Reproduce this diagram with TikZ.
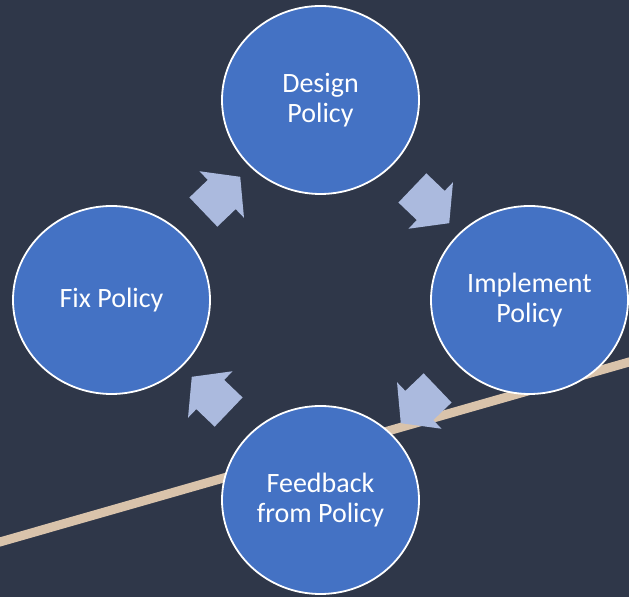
\documentclass[tikz,border=0pt]{standalone}
\usepackage{fontspec}
\setmainfont{Carlito}
\usetikzlibrary{shapes.geometric,shapes.arrows}
\definecolor{slate}{HTML}{2F3749}
\definecolor{ppblue}{HTML}{4472C4}
\definecolor{paleblue}{HTML}{ABBADE}
\definecolor{sand}{HTML}{D9C3AB}
\tikzset{
  stage/.style={ellipse, fill=ppblue, draw=white, line width=1.8pt,
    minimum width=197pt, minimum height=188pt, inner sep=0pt,
    text=white, align=center, font=\fontsize{28}{30}\selectfont},
  cyclearrow/.style={single arrow, fill=paleblue, draw=none,
    inner xsep=0pt, inner ysep=20pt, minimum width=0pt,
    minimum height=51pt, single arrow head extend=12pt,
    single arrow tip angle=103, sloped, allow upside down, midway}
}
\begin{document}
\begin{tikzpicture}[x=1pt, y=1pt]
  \fill[slate] (0,0) rectangle (629,597);
  \useasboundingbox (0,0) rectangle (629,597);
  \clip (0,0) rectangle (629,597);
  % tan line behind everything
  \coordinate (lineW) at (-10,52.2);
  \coordinate (lineE) at (639,237.8);
  \draw[sand, line width=9pt] (lineW) -- (lineE);
  % the four stages
  \node[stage] (design) at (320.5,497) {Design\\Policy};
  \node[stage] (implement) at (529.5,297) {Implement\\Policy};
  \node[stage] (feedback) at (320.5,97) {Feedback\\from Policy};
  \node[stage] (fix) at (111.5,297) {Fix Policy};
  % block arrows between stages
  \path (fix) -- node[cyclearrow] (a1) {} (design);
  \path (design) -- node[cyclearrow] (a2) {} (implement);
  \path (implement) -- node[cyclearrow] (a3) {} (feedback);
  \path (feedback) -- node[cyclearrow] (a4) {} (fix);
\end{tikzpicture}
\end{document}
